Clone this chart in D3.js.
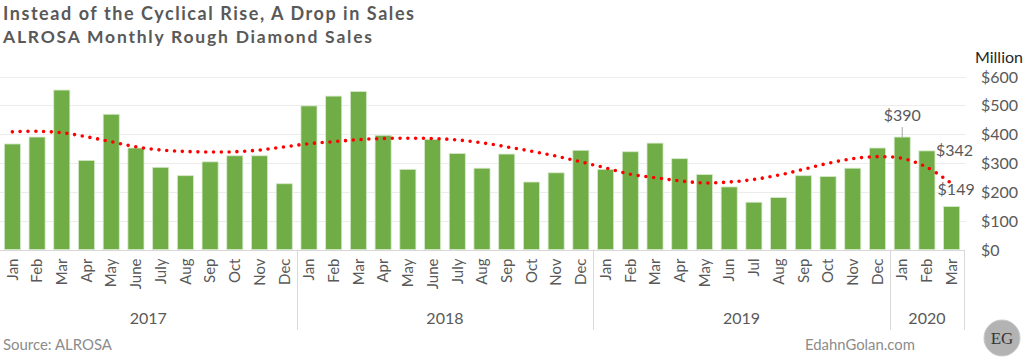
<!DOCTYPE html>
<html>
<head>
<meta charset="utf-8">
<script src="https://cdn.jsdelivr.net/npm/d3@7"></script>
<style>
  html, body { margin: 0; padding: 0; background: #ffffff; }
  svg { display: block; }
</style>
</head>
<body>
<div id="chart"></div>
<script>
// ---------- DATA ----------
const monthLabels = [
  "Jan","Feb","Mar","Apr","May","June","July","Aug","Sep","Oct","Nov","Dec",
  "Jan","Feb","Mar","Apr","May","June","July","Aug","Sep","Oct","Nov","Dec",
  "Jan","Feb","Mar","Apr","May","Jun","Jul","Aug","Sep","Oct","Nov","Dec",
  "Jan","Feb","Mar"
];
const years = ["2017", "2018", "2019", "2020"];
const monthsPerYear = [12, 12, 12, 3];
const sales = [
  366, 390, 553, 309, 469, 352, 285, 256, 304, 325, 325, 228,
  498, 532, 548, 396, 278, 382, 333, 282, 331, 234, 266, 344,
  278, 339, 369, 315, 260, 217, 164, 180, 256, 253, 282, 352,
  390, 342, 149
];
const trend = [
  408, 410, 405, 391, 374, 356, 345, 340, 338, 339, 345, 356,
  367, 374, 381, 385, 386, 385, 380, 370, 356, 341, 324, 304,
  283, 261, 249, 238, 231, 234, 243, 258, 278, 299, 315, 322,
  316, 285, 229
];
const labelledIdx = [36, 37, 38];
const yTicks = [0, 100, 200, 300, 400, 500, 600];

// ---------- LAYOUT ----------
const W = 1024, H = 357;
const FONT = "Lato, 'Open Sans', sans-serif";
const svg = d3.select("#chart").append("svg").attr("width", W).attr("height", H);

const x = d3.scaleBand().domain(d3.range(sales.length)).range([0, 964])
  .paddingInner(0.35).paddingOuter(0.175);
const y = d3.scaleLinear().domain([0, 600]).range([249.5, 76.5]);

function fit(sel, target) {
  const n = sel.node();
  const fs = parseFloat(sel.attr("font-size"));
  const w = n.getComputedTextLength();
  sel.attr("font-size", (fs * target / w).toFixed(2));
}

// Titles
svg.append("text").attr("x", 3).attr("y", 20)
  .attr("font-family", FONT).attr("font-weight", "bold").attr("font-size", 18)
  .attr("fill", "#595959").attr("textLength", 411).attr("lengthAdjust", "spacing")
  .text("Instead of the Cyclical Rise, A Drop in Sales");
svg.append("text").attr("x", 3).attr("y", 43)
  .attr("font-family", FONT).attr("font-weight", "bold").attr("font-size", 17.5)
  .attr("fill", "#595959").attr("textLength", 369).attr("lengthAdjust", "spacing")
  .text("ALROSA Monthly Rough Diamond Sales");

// Gridlines
svg.append("g").selectAll("line").data(yTicks.filter(d => d > 0)).join("line")
  .attr("x1", 0).attr("x2", 966)
  .attr("y1", d => Math.round(y(d)) + 0.5).attr("y2", d => Math.round(y(d)) + 0.5)
  .attr("stroke", "#ececec").attr("stroke-width", 1);

// Y axis (right) labels
const yAxis = d3.axisRight(y).tickValues(yTicks).tickSize(0).tickPadding(0)
  .tickFormat(d => "$" + d);
const gy = svg.append("g").attr("transform", "translate(981,0)").call(yAxis);
gy.select(".domain").remove();
gy.selectAll("text").attr("font-family", FONT).attr("font-size", 16)
  .attr("fill", "#595959").attr("dy", "0.35em");
svg.append("text").attr("x", 975).attr("y", 63).attr("font-family", FONT)
  .attr("font-size", 16).attr("fill", "#262626").text("Million");

// Bars
svg.append("g").selectAll("rect").data(sales).join("rect")
  .attr("x", (d, i) => x(i)).attr("width", x.bandwidth())
  .attr("y", d => y(d)).attr("height", d => y(0) - y(d))
  .attr("fill", "#70ad47").attr("stroke", "#d6e9c9").attr("stroke-width", 0.8);

// Trend line (dotted)
const line = d3.line().x((d, i) => x(i) + x.bandwidth() / 2).y(d => y(d))
  .curve(d3.curveCatmullRom.alpha(0.5));
svg.append("path").datum(trend).attr("d", line)
  .attr("fill", "none").attr("stroke", "#ff0000").attr("stroke-width", 3.6)
  .attr("stroke-linecap", "round").attr("stroke-dasharray", "0 7.8");

// X axis baseline
svg.append("line").attr("x1", 0).attr("x2", 964)
  .attr("y1", Math.round(y(0)) + 0.5).attr("y2", Math.round(y(0)) + 0.5)
  .attr("stroke", "#d9d9d9");

// Month labels
const xAxis = d3.axisBottom(x).tickSize(0).tickPadding(0).tickFormat(i => monthLabels[i]);
const gx = svg.append("g").attr("transform", `translate(0,${y(0)})`).call(xAxis);
gx.select(".domain").remove();
gx.selectAll("text").attr("font-family", FONT).attr("font-size", 15)
  .attr("fill", "#595959")
  .attr("transform", "rotate(-90)")
  .attr("x", -9).attr("y", 0).attr("dy", "0.35em")
  .attr("text-anchor", "end");

// Year groups
let start = 0;
const bounds = [0];
const yearPos = [];
monthsPerYear.forEach((n, k) => {
  const x0 = start === 0 ? 0 : x(start) - x.step() * x.paddingInner() / 2;
  const x1 = start + n >= sales.length ? 964 : x(start + n) - x.step() * x.paddingInner() / 2;
  yearPos.push({ year: years[k], cx: (x0 + x1) / 2 });
  bounds.push(x1);
  start += n;
});
svg.append("g").selectAll("line").data(bounds.slice(1)).join("line")
  .attr("x1", d => Math.round(d) + 0.5).attr("x2", d => Math.round(d) + 0.5)
  .attr("y1", y(0)).attr("y2", 330).attr("stroke", "#d9d9d9");
svg.append("g").selectAll("text").data(yearPos).join("text")
  .attr("x", d => d.cx).attr("y", 324).attr("text-anchor", "middle")
  .attr("font-family", FONT).attr("font-size", 16).attr("fill", "#595959")
  .text(d => d.year);

// Data labels
const lbl = svg.append("g");
const i390 = labelledIdx[0];
lbl.append("line")
  .attr("x1", x(i390) + x.bandwidth() / 2).attr("x2", x(i390) + x.bandwidth() / 2)
  .attr("y1", 127).attr("y2", y(sales[i390]))
  .attr("stroke", "#a6a6a6");
lbl.append("text").attr("x", x(i390) + x.bandwidth() / 2).attr("y", 121)
  .attr("text-anchor", "middle").attr("font-family", FONT).attr("font-size", 16)
  .attr("fill", "#595959").text("$" + sales[i390]);
const i342 = labelledIdx[1];
lbl.append("text").attr("x", x(i342) + x.bandwidth() + 1).attr("y", y(sales[i342]) + 5)
  .attr("font-family", FONT).attr("font-size", 16)
  .attr("fill", "#595959").text("$" + sales[i342]);
const i149 = labelledIdx[2];
lbl.append("text").attr("x", x(i149) - 6).attr("y", 195)
  .attr("font-family", FONT).attr("font-size", 16)
  .attr("fill", "#595959").text("$" + sales[i149]);

// Footer
const s = svg.append("text").attr("x", 3).attr("y", 350).attr("font-family", FONT)
  .attr("font-size", 14).attr("fill", "#8c8c8c").text("Source: ALROSA");
fit(s, 109);
const w = svg.append("text").attr("x", 805).attr("y", 350).attr("font-family", FONT)
  .attr("font-size", 14).attr("fill", "#8c8c8c").text("EdahnGolan.com");
fit(w, 110);

// Logo
svg.append("circle").attr("cx", 1002).attr("cy", 338).attr("r", 18)
  .attr("fill", "#b3b3b3").attr("stroke", "#c8c8c8").attr("stroke-width", 1);
svg.append("text").attr("x", 1002).attr("y", 344).attr("text-anchor", "middle")
  .attr("font-family", "'Liberation Serif', 'DejaVu Serif', serif").attr("font-size", 17)
  .attr("fill", "#333333").text("EG");
</script>
</body>
</html>
